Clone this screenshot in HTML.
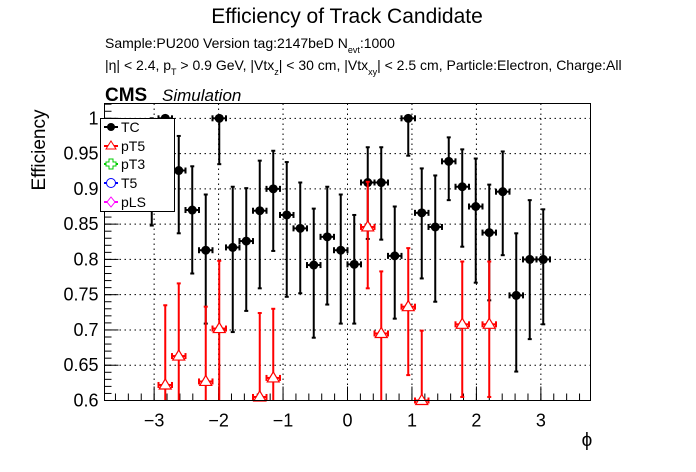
<!DOCTYPE html>
<html><head><meta charset="utf-8"><style>
body{margin:0;background:#fff;}
svg{font-family:"Liberation Sans",sans-serif;display:block}
</style></head><body>
<svg id="chart" width="696" height="472" viewBox="0 0 696 472">
<text x="347" y="23" font-size="21" text-anchor="middle">Efficiency of Track Candidate</text>
<text x="105" y="48" font-size="14">Sample:PU200   Version tag:2147beD  N<tspan font-size="9" dy="5">evt</tspan><tspan dy="-5">:1000</tspan></text>
<text x="105" y="70" font-size="14">|η| &lt; 2.4, p<tspan font-size="9" dy="5">T</tspan><tspan dy="-5"> &gt; 0.9 GeV, |Vtx</tspan><tspan font-size="9" dy="5">z</tspan><tspan dy="-5">| &lt; 30 cm, |Vtx</tspan><tspan font-size="9" dy="5">xy</tspan><tspan dy="-5">| &lt; 2.5 cm, Particle:Electron, Charge:All</tspan></text>
<text x="105" y="101" font-size="19" font-weight="bold">CMS</text>
<text x="162" y="101" font-size="17" font-style="italic">Simulation</text>
<text x="45" y="150" font-size="19" text-anchor="middle" transform="rotate(-90 45 150)">Efficiency</text>
<text x="587" y="446" font-size="19" text-anchor="middle">ϕ</text>
<g id="grid"></g><g id="axes"></g><g id="series"></g>
<rect x="104.5" y="103.5" width="486" height="297" fill="none" stroke="#000"/>
<g>
<rect x="100.5" y="118.5" width="74" height="93" fill="#fff" stroke="#000"/>
<g><line x1="104" y1="127" x2="118" y2="127" stroke="#000" stroke-width="2"/><circle cx="111" cy="127" r="4" fill="#000"/><text x="121" y="132" font-size="14">TC</text></g>
<g><line x1="104" y1="146" x2="118" y2="146" stroke="red" stroke-width="2"/><path d="M111,141 L116,149 L106,149Z" fill="#fff" stroke="red"/><text x="121" y="151" font-size="14">pT5</text></g>
<g><line x1="104" y1="164" x2="118" y2="164" stroke="#0c0" stroke-width="2"/><path d="M109,159h4v3h3v4h-3v3h-4v-3h-3v-4h3z" fill="#fff" stroke="#0c0"/><text x="121" y="169" font-size="14">pT3</text></g>
<g><line x1="104" y1="183" x2="118" y2="183" stroke="#00f" stroke-width="2"/><circle cx="111" cy="183" r="4.5" fill="#fff" stroke="#00f"/><text x="121" y="188" font-size="14">T5</text></g>
<g><line x1="104" y1="202" x2="118" y2="202" stroke="#f0f" stroke-width="2"/><path d="M111,197 L115,202 L111,207 L107,202Z" fill="#fff" stroke="#f0f"/><text x="121" y="207" font-size="14">pLS</text></g>
</g>
</svg>
<script>
const tcValues=[0.93,1.0,0.926,0.870,0.813,1.0,0.817,0.826,0.869,0.900,0.863,0.844,0.792,0.832,0.813,0.793,0.909,0.909,0.805,1.0,0.866,0.846,0.939,0.903,0.875,0.838,0.896,0.749,0.800,0.800];
const tcHigh=[1.0,1.0,0.975,0.932,0.892,1.0,0.903,0.901,0.94,0.954,0.938,0.909,0.872,0.903,0.892,0.863,0.959,0.959,0.875,1.0,0.929,0.919,0.973,0.956,0.943,0.906,0.953,0.837,0.884,0.871];
const tcLow=[0.848,0.93,0.837,0.780,0.709,0.935,0.697,0.727,0.759,0.812,0.747,0.752,0.689,0.736,0.709,0.709,0.829,0.828,0.716,0.947,0.773,0.740,0.884,0.818,0.767,0.742,0.806,0.641,0.687,0.708];
const pt5Bins=[1,2,4,5,8,9,16,17,19,20,23,25];
const pt5Values=[0.622,0.663,0.627,0.702,0.605,0.632,0.846,0.695,0.733,0.597,0.708,0.708];
const pt5High=[0.735,0.766,0.733,0.798,0.724,0.730,0.910,0.783,0.816,0.699,0.797,0.797];
const pt5Low=[0.55,0.55,0.55,0.55,0.55,0.55,0.759,0.55,0.636,0.55,0.605,0.605];
const yTicks=[0.6,0.65,0.7,0.75,0.8,0.85,0.9,0.95,1];
const yTickLabels=["0.6","0.65","0.7","0.75","0.8","0.85","0.9","0.95","1"];
const xTicks=[-3,-2,-1,0,1,2,3];
const xTickLabels=["−3","−2","−1","0","1","2","3"];
const NS="http://www.w3.org/2000/svg";
const X0=104.5,X1=590.5,Y0=400.5,Y1=103.5,XMIN=-3.77,XMAX=3.77,YMIN=0.6,YMAX=1.021;
const BW=2*Math.PI/30;
function xs(v){return X0+(v-XMIN)/(XMAX-XMIN)*(X1-X0);}
function ys(v){return Y0-(v-YMIN)/(YMAX-YMIN)*(Y0-Y1);}
function binC(i){return -Math.PI+BW*(i+0.5);}
function mk(tag,attrs,parent){const e=document.createElementNS(NS,tag);for(const k in attrs)e.setAttribute(k,attrs[k]);parent.appendChild(e);return e;}
const grid=document.getElementById('grid'),axes=document.getElementById('axes'),ser=document.getElementById('series');
yTicks.forEach((t,i)=>{const y=ys(t);
 const g=mk('line',{x1:X0,x2:X1,y1:y,y2:y,stroke:'#000','stroke-dasharray':'1.5,3.5','stroke-width':1},grid);
 
 
 const tk=mk('line',{x1:X0,x2:X0+14,y1:y,y2:y,stroke:'#000'},axes);
 
 
 const tx=mk('text',{x:X0-6,y:y+6,'font-size':18,'text-anchor':'end'},axes);tx.textContent=yTickLabels[i];
 
 
});
for(let v=0.6;v<1.021;v+=0.01){const y=ys(v);mk('line',{x1:X0,x2:X0+7,y1:y,y2:y,stroke:'#000'},axes);}
xTicks.forEach((t,i)=>{const x=xs(t);
 const g=mk('line',{x1:x,x2:x,y1:Y1,y2:Y0,stroke:'#000','stroke-dasharray':'1.5,3.5','stroke-width':1},grid);
 
 
 const tk=mk('line',{x1:x,x2:x,y1:Y0,y2:Y0-14,stroke:'#000'},axes);
 
 
 const tx=mk('text',{x:x,y:Y0+26,'font-size':18,'text-anchor':'middle'},axes);tx.textContent=xTickLabels[i];
 
 
});
for(let v=-3.6;v<3.7;v+=0.2){const x=xs(v);mk('line',{x1:x,x2:x,y1:Y0,y2:Y0-7,stroke:'#000'},axes);}
function clampY(v){return ys(Math.max(YMIN,Math.min(YMAX,v)));}
function errbar(cx,v,lo,hi,col,g){
 const x=xs(cx),hw=xs(cx+BW/2)-x;
 mk('line',{x1:x,x2:x,y1:clampY(lo),y2:clampY(hi),stroke:col,'stroke-width':2},g);
 if(lo>=YMIN)mk('line',{x1:x-2,x2:x+2,y1:ys(lo),y2:ys(lo),stroke:col,'stroke-width':2},g);
 if(hi<=YMAX)mk('line',{x1:x-2,x2:x+2,y1:ys(hi),y2:ys(hi),stroke:col,'stroke-width':2},g);
 const y=clampY(v);
 mk('line',{x1:x-hw,x2:x+hw,y1:y,y2:y,stroke:col,'stroke-width':2},g);
 mk('line',{x1:x-hw,x2:x-hw,y1:y-3,y2:y+3,stroke:col,'stroke-width':2},g);
 mk('line',{x1:x+hw,x2:x+hw,y1:y-3,y2:y+3,stroke:col,'stroke-width':2},g);
}
const gt=mk('g',{},ser);


tcValues.forEach((v,i)=>{const g=mk('g',{},gt);
 
 
 errbar(binC(i),v,tcLow[i],tcHigh[i],'#000',g);
 mk('circle',{cx:xs(binC(i)),cy:ys(v),r:4.5,fill:'#000'},g);
});
const gp=mk('g',{},ser);


pt5Bins.forEach((b,i)=>{const g=mk('g',{},gp);
 
 
 const v=pt5Values[i];
 errbar(binC(b),v,pt5Low[i],pt5High[i],'red',g);
 const x=xs(binC(b)),y=clampY(v);
 mk('path',{d:`M${x},${y-6} L${x+6},${y+4} L${x-6},${y+4}Z`,fill:'#fff',stroke:'red','stroke-width':1.2},g);
});
</script>
</body></html>
